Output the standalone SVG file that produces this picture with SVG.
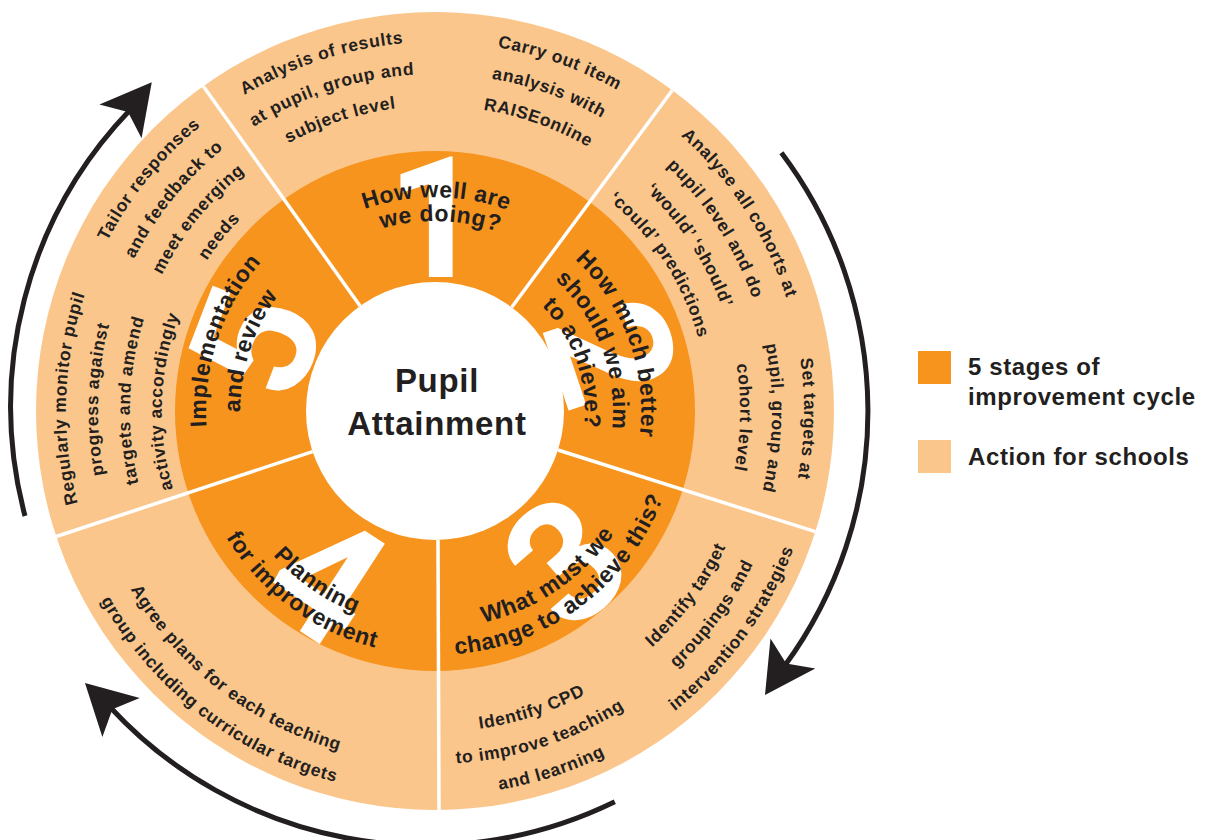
<svg xmlns="http://www.w3.org/2000/svg" width="1205" height="840" viewBox="0 0 1205 840">
<style>
.t{font-family:"Liberation Sans",Arial,Helvetica,sans-serif;font-weight:700;fill:#231F20}
.act{font-size:17.5px;letter-spacing:0.7px;text-anchor:middle}
.stg{font-size:23px;letter-spacing:0.6px;text-anchor:middle}
.num{font-family:Roboto,"Liberation Sans",Arial,sans-serif;font-weight:700;font-size:168px;fill:#fff;text-anchor:middle}
.ctr{font-size:33px;letter-spacing:0.7px;text-anchor:middle}
.leg{font-size:24px;letter-spacing:0.6px}
.div{stroke:#fff;stroke-width:3.5}
.arc{fill:none;stroke:#231F20;stroke-width:5}
.head{fill:#231F20}
.dark{fill:#F7941E}
.light{fill:#FBC68B}
</style>
<defs>
<path id="head" d="M38,0 L-12,-27 L0,0 L-12,27 Z"/>
<path id="cw369" d="M-363.4,-64.1 A369,369 0 0 1 363.4,-64.1"/>
<path id="cw337" d="M-331.9,-58.5 A337,337 0 0 1 331.9,-58.5"/>
<path id="cw305" d="M-300.4,-52.9 A305,305 0 0 1 300.4,-52.9"/>
<path id="cw273" d="M-268.9,-47.4 A273,273 0 0 1 268.9,-47.4"/>
<path id="cw229" d="M-225.5,-39.8 A229,229 0 0 1 225.5,-39.8"/>
<path id="cw214" d="M-210.7,-37.2 A214,214 0 0 1 210.7,-37.2"/>
<path id="cw206" d="M-202.9,-35.8 A206,206 0 0 1 202.9,-35.8"/>
<path id="cw195" d="M-192.0,-33.9 A195,195 0 0 1 192.0,-33.9"/>
<path id="cw190" d="M-187.1,-33.0 A190,190 0 0 1 187.1,-33.0"/>
<path id="cw178" d="M-175.3,-30.9 A178,178 0 0 1 175.3,-30.9"/>
<path id="cw150" d="M-147.7,-26.0 A150,150 0 0 1 147.7,-26.0"/>
<path id="ccw384" d="M-378.2,66.7 A384,384 0 0 0 378.2,66.7"/>
<path id="ccw353" d="M-347.6,61.3 A353,353 0 0 0 347.6,61.3"/>
<path id="ccw321" d="M-316.1,55.7 A321,321 0 0 0 316.1,55.7"/>
<path id="ccw244" d="M-240.3,42.4 A244,244 0 0 0 240.3,42.4"/>
<path id="ccw217" d="M-213.7,37.7 A217,217 0 0 0 213.7,37.7"/>
</defs>

<g id="wheel">
<circle class="light" cx="435" cy="411" r="399"/>
<circle class="dark" cx="435" cy="411" r="260"/>
<circle fill="#fff" cx="435" cy="411" r="129"/>
</g>

<g id="numerals">
<text class="num" transform="translate(435 411) rotate(0)" x="0" y="-134">1</text>
<text class="num" transform="translate(435 411) rotate(71.6)" x="0" y="-127">2</text>
<text class="num" transform="translate(435 411) rotate(-41.1)" x="0" y="258">3</text>
<text class="num" transform="translate(435 411) rotate(33)" x="0" y="258">4</text>
<text class="num" transform="translate(435 411) rotate(-69)" x="0" y="-133">5</text>
</g>

<g id="dividers">
<line class="div" x1="360.1" y1="306.0" x2="203.3" y2="86.2"/>
<line class="div" x1="511.7" y1="307.3" x2="672.3" y2="90.2"/>
<line class="div" x1="558.0" y1="450.0" x2="815.3" y2="531.7"/>
<line class="div" x1="438" y1="540" x2="439" y2="810"/>
<line class="div" x1="312.6" y1="451.6" x2="56.3" y2="536.5"/>
</g>

<g id="center">
<text class="t ctr" x="437" y="392">Pupil</text>
<text class="t ctr" x="437" y="435">Attainment</text>
</g>

<g id="stage-1">
<text class="t stg" transform="translate(435 411) rotate(0.4)"><textPath href="#cw214" startOffset="50%">How well are</textPath></text>
<text class="t stg" transform="translate(435 411) rotate(1.6)"><textPath href="#cw190" startOffset="50%">we doing?</textPath></text>
</g>
<g id="stage-2">
<text class="t stg" transform="translate(435 411) rotate(69.9)"><textPath href="#cw206" startOffset="50%">How much better</textPath></text>
<text class="t stg" transform="translate(435 411) rotate(69.1)"><textPath href="#cw178" startOffset="50%">should we aim</textPath></text>
<text class="t stg" transform="translate(435 411) rotate(70.9)"><textPath href="#cw150" startOffset="50%">to achieve?</textPath></text>
</g>
<g id="stage-3">
<text class="t stg" transform="translate(435 411) rotate(-34.3)"><textPath href="#ccw217" startOffset="50%">What must we</textPath></text>
<text class="t stg" transform="translate(435 411) rotate(-37)"><textPath href="#ccw244" startOffset="50%">change to achieve this?</textPath></text>
</g>
<g id="stage-4">
<text class="t stg" transform="translate(435 411) rotate(34.8)"><textPath href="#ccw217" startOffset="50%">Planning</textPath></text>
<text class="t stg" transform="translate(435 411) rotate(36.5)"><textPath href="#ccw244" startOffset="50%">for improvement</textPath></text>
</g>
<g id="stage-5">
<text class="t stg" transform="translate(435 411) rotate(-71.6)"><textPath href="#cw229" startOffset="50%">Implementation</textPath></text>
<text class="t stg" transform="translate(435 411) rotate(-72)"><textPath href="#cw195" startOffset="50%">and review</textPath></text>
</g>

<g id="action-1a" transform="translate(435 411) rotate(-18)">
<text class="t act"><textPath href="#cw369" startOffset="50%">Analysis of results</textPath></text>
<text class="t act"><textPath href="#cw337" startOffset="50%">at pupil, group and</textPath></text>
<text class="t act"><textPath href="#cw305" startOffset="50%">subject level</textPath></text>
</g>
<g id="action-1b" transform="translate(435 411) rotate(19.7)">
<text class="t act"><textPath href="#cw369" startOffset="50%">Carry out item</textPath></text>
<text class="t act"><textPath href="#cw337" startOffset="50%">analysis with</textPath></text>
<text class="t act"><textPath href="#cw305" startOffset="50%">RAISEonline</textPath></text>
</g>
<g id="action-2a" transform="translate(435 411) rotate(57)">
<text class="t act"><textPath href="#cw369" startOffset="50%">Analyse all cohorts at</textPath></text>
<text class="t act"><textPath href="#cw337" startOffset="50%">pupil level and do</textPath></text>
<text class="t act"><textPath href="#cw305" startOffset="50%">‘would’ ‘should’</textPath></text>
<text class="t act"><textPath href="#cw273" startOffset="50%">‘could’ predictions</textPath></text>
</g>
<g id="action-2b" transform="translate(435 411) rotate(91.2)">
<text class="t act"><textPath href="#cw369" startOffset="50%">Set targets at</textPath></text>
<text class="t act"><textPath href="#cw337" startOffset="50%">pupil, group and</textPath></text>
<text class="t act"><textPath href="#cw305" startOffset="50%">cohort level</textPath></text>
</g>
<g id="action-3a" transform="translate(435 411) rotate(-53.8)">
<text class="t act"><textPath href="#ccw321" startOffset="50%">Identify target</textPath></text>
<text class="t act"><textPath href="#ccw353" startOffset="50%">groupings and</textPath></text>
<text class="t act"><textPath href="#ccw384" startOffset="50%">intervention strategies</textPath></text>
</g>
<g id="action-3b" transform="translate(435 411) rotate(-18)">
<text class="t act"><textPath href="#ccw321" startOffset="50%">Identify CPD</textPath></text>
<text class="t act"><textPath href="#ccw353" startOffset="50%">to improve teaching</textPath></text>
<text class="t act"><textPath href="#ccw384" startOffset="50%">and learning</textPath></text>
</g>
<g id="action-4" transform="translate(435 411) rotate(37.7)">
<text class="t act"><textPath href="#ccw353" startOffset="50%">Agree plans for each teaching</textPath></text>
<text class="t act"><textPath href="#ccw384" startOffset="50%">group including curricular targets</textPath></text>
</g>
<g id="action-5a" transform="translate(435 411) rotate(-88)">
<text class="t act"><textPath href="#cw369" startOffset="50%">Regularly monitor pupil</textPath></text>
<text class="t act"><textPath href="#cw337" startOffset="50%">progress against</textPath></text>
<text class="t act"><textPath href="#cw305" startOffset="50%">targets and amend</textPath></text>
<text class="t act"><textPath href="#cw273" startOffset="50%">activity accordingly</textPath></text>
</g>
<g id="action-5b" transform="translate(435 411) rotate(-51)">
<text class="t act"><textPath href="#cw369" startOffset="50%">Tailor responses</textPath></text>
<text class="t act"><textPath href="#cw337" startOffset="50%">and feedback to</textPath></text>
<text class="t act"><textPath href="#cw305" startOffset="50%">meet emerging</textPath></text>
<text class="t act"><textPath href="#cw273" startOffset="50%">needs</textPath></text>
</g>

<g id="connectors">
<path class="arc" d="M25,516 A428,428 0 0 1 130,110"/>
<use class="head" href="#head" transform="translate(128 112) rotate(-51.3)"/>
<path class="arc" d="M781.4,152.8 A430,430 0 0 1 784.5,666"/>
<use class="head" href="#head" transform="translate(786.2 663.5) rotate(123.9)"/>
<path class="arc" d="M614.8,801.7 A430,430 0 0 1 110.2,707.2"/>
<use class="head" href="#head" transform="translate(112.4 709.3) rotate(223.8)"/>
</g>

<g id="legend">
<rect class="dark" x="918" y="351" width="33" height="33"/>
<text class="t leg" x="968" y="375">5 stages of</text>
<text class="t leg" x="968" y="405">improvement cycle</text>
<rect class="light" x="918" y="440" width="33" height="33"/>
<text class="t leg" x="968" y="465">Action for schools</text>
</g>
</svg>
